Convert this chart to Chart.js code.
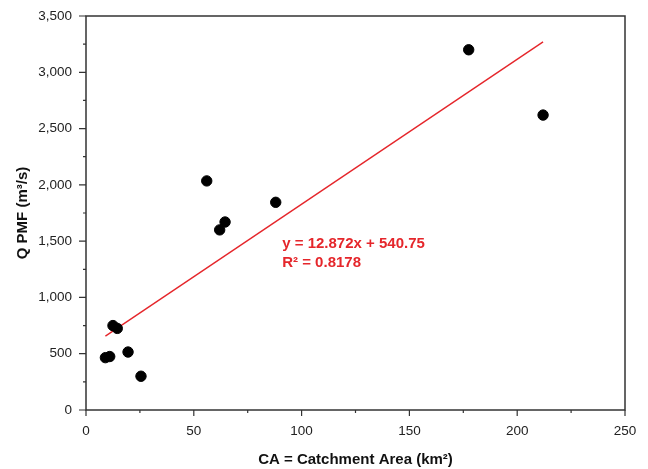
<!DOCTYPE html>
<html>
<head>
<meta charset="utf-8">
<script src="https://cdn.jsdelivr.net/npm/chart.js@4"></script>
<style>
html,body{margin:0;padding:0;background:#fff;}
#wrap{width:648px;height:469px;}
</style>
</head>
<body>
<div id="wrap"><canvas id="c" width="648" height="469"></canvas></div>
<script>
// Data
const catchmentArea = [9, 11, 12.5, 14.5, 19.5, 25.5, 56, 62, 64.5, 88, 177.5, 212];
const qPMF          = [465, 475, 750, 725, 515, 300, 2035, 1600, 1670, 1845, 3200, 2620];
const trendSlope = 12.872;
const trendIntercept = 540.75;
const trendLabel1 = 'y = 12.872x + 540.75';
const trendLabel2 = 'R² = 0.8178';
const xTicks = [0, 50, 100, 150, 200, 250];
const yTicks = [0, 500, 1000, 1500, 2000, 2500, 3000, 3500];

const points = catchmentArea.map((x, i) => ({x: x, y: qPMF[i]}));
const xMin = Math.min(...catchmentArea), xMax = Math.max(...catchmentArea);
const trend = [xMin, xMax].map(x => ({x: x, y: trendSlope * x + trendIntercept}));

const FONT = '"Liberation Sans", Arial, sans-serif';
const RED = '#e5262b';

const framePlugin = {
  id: 'frame',
  afterDraw(chart) {
    const ctx = chart.ctx, a = chart.chartArea;
    const xs = chart.scales.x, ys = chart.scales.y;
    ctx.save();
    ctx.strokeStyle = '#333';
    ctx.lineWidth = 1.5;
    ctx.strokeRect(a.left, a.top, a.right - a.left, a.bottom - a.top);
    ctx.lineWidth = 1.2;
    ctx.beginPath();
    for (let v = 0; v <= 250; v += 25) {
      const px = xs.getPixelForValue(v);
      const len = (v % 50 === 0) ? 6 : 3;
      ctx.moveTo(px, a.bottom);
      ctx.lineTo(px, a.bottom + len);
    }
    for (let v = 0; v <= 3500; v += 250) {
      const py = ys.getPixelForValue(v);
      const len = (v % 500 === 0) ? 7 : 3;
      ctx.moveTo(a.left, py);
      ctx.lineTo(a.left - len, py);
    }
    ctx.stroke();
    ctx.fillStyle = RED;
    ctx.font = 'bold 15px ' + FONT;
    ctx.textBaseline = 'middle';
    ctx.textAlign = 'left';
    const tx = xs.getPixelForValue(91);
    ctx.fillText(trendLabel1, tx, ys.getPixelForValue(1475));
    ctx.fillText(trendLabel2, tx, ys.getPixelForValue(1310));
    ctx.restore();
  }
};

new Chart(document.getElementById('c'), {
  type: 'scatter',
  data: {
    datasets: [
      {
        label: 'Q PMF',
        data: points,
        backgroundColor: '#000',
        borderColor: '#000',
        pointRadius: 5.2,
        pointHoverRadius: 5.2
      },
      {
        type: 'line',
        label: 'Trend',
        data: trend,
        borderColor: RED,
        borderWidth: 1.4,
        pointRadius: 0,
        fill: false
      }
    ]
  },
  options: {
    responsive: false,
    animation: false,
    layout: {padding: {top: 16, right: 23, left: 0, bottom: 0}},
    plugins: {legend: {display: false}, tooltip: {enabled: false}},
    scales: {
      x: {
        type: 'linear', min: 0, max: 250,
        afterBuildTicks(s) { s.ticks = xTicks.map(v => ({value: v})); },
        afterFit(s) { s.height = 59; },
        grid: {display: false},
        border: {display: false},
        ticks: {color: '#222', font: {family: FONT, size: 13.5}, padding: 5},
        title: {display: true, text: 'CA = Catchment Area (km²)', color: '#111',
                font: {family: FONT, size: 15, weight: 'bold'}, padding: {top: 4, bottom: 0}}
      },
      y: {
        type: 'linear', min: 0, max: 3500,
        afterBuildTicks(s) { s.ticks = yTicks.map(v => ({value: v})); },
        afterFit(s) { s.width = 86; },
        grid: {display: false},
        border: {display: false},
        ticks: {color: '#222', font: {family: FONT, size: 13.5}, padding: 6,
                callback: v => v.toLocaleString('en-US')},
        title: {display: true, text: 'Q PMF (m³/s)', color: '#111',
                font: {family: FONT, size: 15, weight: 'bold'}, padding: {top: 14, bottom: 0}}
      }
    }
  },
  plugins: [framePlugin]
});
</script>
</body>
</html>
